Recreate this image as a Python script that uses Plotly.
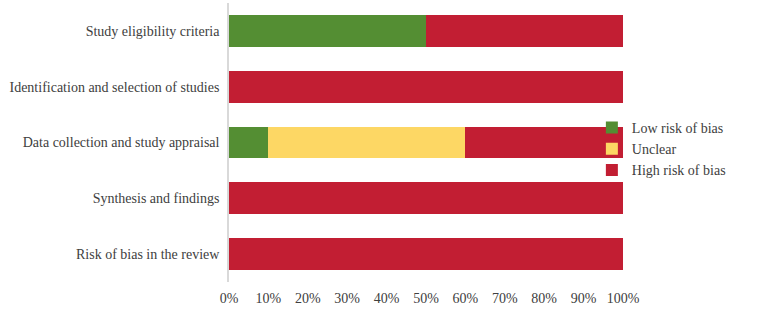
import plotly.graph_objects as go

categories = ["Study eligibility criteria", "Identification and selection of studies",
              "Data collection and study appraisal", "Synthesis and findings",
              "Risk of bias in the review"]
low = [50, 0, 10, 0, 0]
unclear = [0, 0, 50, 0, 0]
high = [50, 100, 40, 100, 100]
series_names = ["Low risk of bias", "Unclear", "High risk of bias"]
colors = ["#548E33", "#FDD764", "#C21E33"]
tick_values = list(range(0, 101, 10))
tick_labels = [f"{v}%" for v in tick_values]

fig = go.Figure()
for name, vals, col in zip(series_names, [low, unclear, high], colors):
    fig.add_trace(go.Bar(y=categories, x=vals, name=name, orientation="h",
                         marker=dict(color=col, line=dict(width=0))))

fig.update_layout(
    width=767, height=312,
    barmode="stack", bargap=0.43,
    paper_bgcolor="white", plot_bgcolor="white",
    margin=dict(l=229, r=144, t=3, b=30),
    font=dict(family="Liberation Serif", size=14, color="#404040"),
    legend=dict(x=0.921, y=0.477, xanchor="left", yanchor="middle",
                traceorder="normal", font=dict(size=14), itemwidth=30,
                tracegroupgap=0, bgcolor="rgba(0,0,0,0)"),
    xaxis=dict(range=[0, 100], tickvals=tick_values, ticktext=tick_labels,
               showgrid=False, zeroline=False, showline=False, ticks="",
               ticklabelstandoff=6),
    yaxis=dict(autorange="reversed", showline=True, linecolor="#d9d9d9", linewidth=1.5,
               ticks="", showgrid=False, ticklabelstandoff=5),
)
fig.write_html("out.html")
